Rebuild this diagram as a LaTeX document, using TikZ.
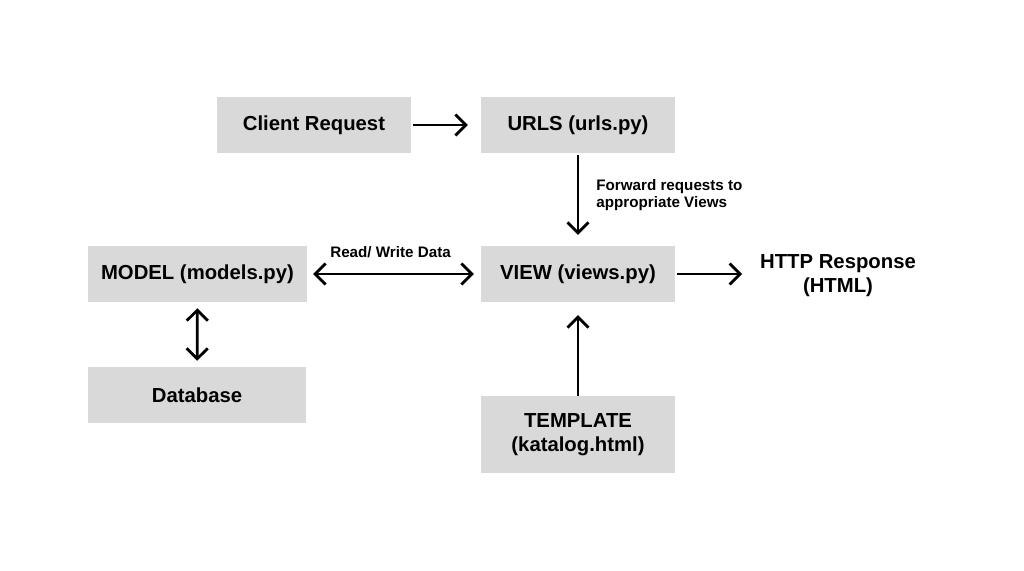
\documentclass[tikz,border=0pt]{standalone}
\usepackage{fontspec}
\setmainfont{Liberation Sans}
\usetikzlibrary{arrows.meta}
\definecolor{boxgray}{HTML}{D9D9D9}
\tikzset{
  bigtext/.style={font=\fontsize{20.3}{24}\selectfont\bfseries},
  box/.style={fill=boxgray, draw=none, minimum width=#1, minimum height=56pt, inner sep=0pt,
    bigtext, align=center},
  box/.default=194pt,
  tip/.tip={Straight Barb[length=10.5pt,width=21pt,line width=2.8pt]},
  conn/.style={line width=2.8pt, -tip},
  biconn/.style={line width=2.8pt, tip-tip},
  small/.style={font=\fontsize{15.2}{17}\selectfont\bfseries, align=left, inner sep=0pt}
}
\begin{document}
\begin{tikzpicture}[x=1pt,y=-1pt]
\useasboundingbox (0,0) rectangle (1024,570);
\node[box] (client) at (314,125) {Client Request};
\node[box] (urls) at (578,125) {URLS (urls.py)};
\node[box=219pt] (model) at (197.5,274) {MODEL (models.py)};
\node[box] (view) at (578,274) {VIEW (views.py)};
\node[box=218pt] (db) at (197,395) {Database};
\node[box, minimum height=77pt] (tmpl) at (578,434.5) {TEMPLATE\\(katalog.html)};
\node[bigtext, align=center, inner sep=0pt] (http) at (838,276) {HTTP Response\\(HTML)};
\draw[conn, shorten <=2pt, shorten >=13pt] (client) -- (urls);
\draw[conn, shorten <=2pt, shorten >=11pt] (urls) -- node[small, right=17pt, pos=0.45, anchor=west] (fwd) {Forward requests to\\appropriate Views} (view);
\draw[biconn, shorten <=6pt, shorten >=7pt] (model) -- node[small, above=15pt, pos=0.48] (rw) {Read/ Write Data} (view);
\draw[conn, shorten <=2pt] (view.east) -- (742,274) coordinate (httpin);
\draw[biconn, shorten <=6pt, shorten >=6pt] (model) -- (db);
\draw[conn, shorten >=13pt] (tmpl) -- (view);
\end{tikzpicture}
\end{document}
